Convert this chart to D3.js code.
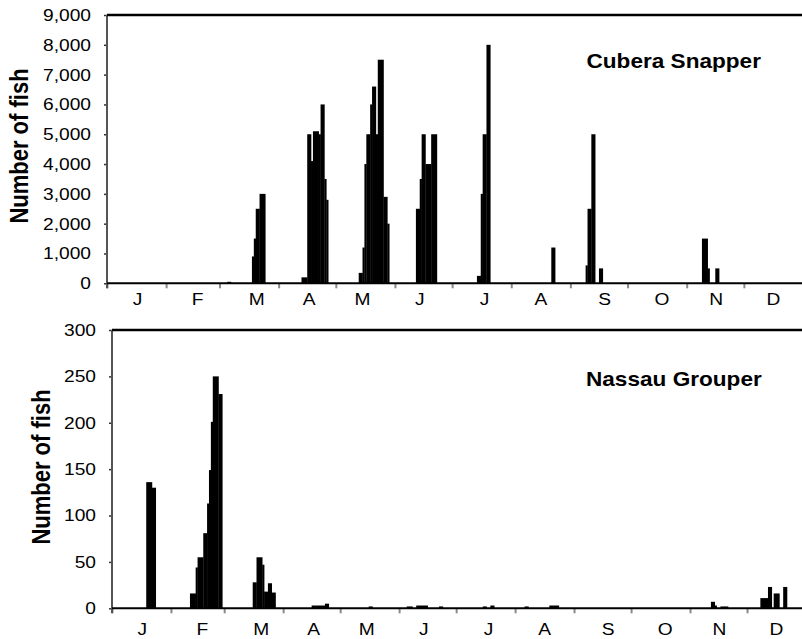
<!DOCTYPE html>
<html>
<head>
<meta charset="utf-8">
<script src="https://cdn.jsdelivr.net/npm/d3@7"></script>
<style>
  body { margin: 0; background: #fff; }
  text { font-family: "Liberation Sans", Arial, sans-serif; fill: #000; }
</style>
</head>
<body>
<div id="chart"></div>
<script>
const width = 802;
const height = 639;

const monthStarts = [0, 31, 59, 90, 120, 151, 181, 212, 243, 273, 304, 334, 365];
const monthLabels = ["J", "F", "M", "A", "M", "J", "J", "A", "S", "O", "N", "D"];
const monthLabelDay = [16, 47.5, 78.5, 106, 134, 164, 198, 227.5, 261, 291, 319.5, 349.5];

// runs of days: first day of year, number of days, fish counted
const snapperStart = [63, 76, 77, 78, 80, 102, 105, 107, 108, 111, 112, 114, 115, 132, 134, 135, 136, 138, 139, 141, 142, 145, 147, 162, 164, 165, 167, 170, 194, 196, 197, 199, 233, 251, 252, 254, 258, 312, 315, 319];
const snapperLen = [2, 1, 1, 2, 3, 3, 2, 1, 3, 1, 2, 1, 1, 2, 1, 1, 2, 1, 2, 1, 3, 2, 1, 2, 1, 2, 3, 3, 2, 1, 2, 2, 2, 1, 2, 2, 2, 3, 1, 2];
const snapperFish = [50, 900, 1500, 2500, 3000, 200, 5000, 4100, 5100, 5000, 6000, 3500, 2800, 350, 1200, 4000, 5000, 6000, 6600, 5000, 7500, 2900, 2000, 2500, 3500, 5000, 4000, 5000, 250, 3000, 5000, 8000, 1200, 600, 2500, 5000, 500, 1500, 500, 500];
const snapperTicks = [0, 1000, 2000, 3000, 4000, 5000, 6000, 7000, 8000, 9000];

const grouperStart = [18, 21, 41, 44, 45, 48, 50, 51, 52, 53, 56, 74, 76, 79, 80, 82, 84, 105, 107, 112, 135, 155, 160, 172, 195, 199, 217, 230, 315, 317, 320, 341, 345, 348, 353];
const grouperLen = [3, 2, 3, 1, 3, 2, 1, 1, 1, 3, 2, 2, 3, 1, 2, 2, 2, 2, 5, 2, 2, 3, 6, 2, 2, 2, 2, 5, 2, 1, 4, 4, 2, 3, 2];
const grouperFish = [136, 130, 16, 44, 55, 81, 113, 149, 201, 250, 231, 28, 55, 47, 18, 27, 17, 3, 3, 5, 2, 2, 3, 2, 2, 3, 2, 3, 7, 3, 2, 11, 23, 16, 23];
const grouperTicks = [0, 50, 100, 150, 200, 250, 300];

const stretch = 1.13;

const svg = d3
  .select("#chart")
  .append("svg")
  .attr("width", width)
  .attr("height", height);

function drawPanel({ left, right, top, bottom, yMax, ticks, starts, lens, fish, title, titleX, titleY, labelX, labelY, monthY }) {
  const x = d3.scaleLinear().domain([0, 365]).range([left, right]);
  const y = d3.scaleLinear().domain([0, yMax]).range([bottom, top]);
  const g = svg.append("g");

  const bars = starts.map((s, i) => ({ start: s, len: lens[i], value: fish[i] }));

  g.selectAll("rect.bar")
    .data(bars)
    .enter()
    .append("rect")
    .attr("class", "bar")
    .attr("x", d => x(d.start))
    .attr("width", d => x(d.start + d.len) - x(d.start) + 0.3)
    .attr("y", d => y(d.value))
    .attr("height", d => y(0) - y(d.value))
    .attr("fill", "#000");

  // month separators
  const xAxis = d3.axisBottom(x).tickValues(starts.length ? monthStarts : []).tickSize(5).tickFormat("");
  const xg = g.append("g").attr("transform", `translate(0,${bottom})`).call(xAxis);
  xg.select(".domain").remove();
  xg.selectAll(".tick line").attr("stroke", "#8a8a8a").attr("stroke-width", 2);

  g.selectAll("text.month")
    .data(monthLabels)
    .enter()
    .append("text")
    .attr("class", "month")
    .attr("text-anchor", "middle")
    .attr("font-size", 17)
    .attr("transform", (d, i) => `translate(${x(monthLabelDay[i])},${monthY}) scale(${stretch},1)`)
    .text(d => d);

  const yAxis = d3
    .axisLeft(y)
    .tickValues(ticks)
    .tickSize(3)
    .tickPadding(16 / stretch - 3)
    .tickFormat(d3.format(","));
  const yg = g.append("g").attr("transform", `translate(${left},0)`).call(yAxis);
  yg.select(".domain").remove();
  yg.selectAll(".tick line").attr("stroke", "#333").attr("stroke-width", 1.5);
  yg.selectAll(".tick text")
    .attr("font-size", 17)
    .attr("font-family", "Liberation Sans, Arial, sans-serif")
    .attr("fill", "#000")
    .attr("transform", `scale(${stretch},1)`);

  // frame: left axis, top line, baseline
  g.append("line")
    .attr("x1", left).attr("x2", left)
    .attr("y1", top).attr("y2", bottom + 5)
    .attr("stroke", "#555").attr("stroke-width", 2);
  g.append("line")
    .attr("x1", left).attr("x2", width)
    .attr("y1", top).attr("y2", top)
    .attr("stroke", "#000").attr("stroke-width", 2.5);
  g.append("line")
    .attr("x1", left).attr("x2", width)
    .attr("y1", bottom).attr("y2", bottom)
    .attr("stroke", "#000").attr("stroke-width", 2);

  g.append("text")
    .attr("font-size", 20)
    .attr("font-weight", "bold")
    .attr("transform", `translate(${titleX},${titleY}) scale(${stretch},1)`)
    .text(title);

  g.append("text")
    .attr("font-size", 22)
    .attr("font-weight", "bold")
    .attr("text-anchor", "middle")
    .attr("transform", `translate(${labelX},${labelY}) scale(${stretch},1) rotate(-90)`)
    .text("Number of fish");
}

drawPanel({
  left: 107, right: 803, top: 15, bottom: 283.3, yMax: 9000, ticks: snapperTicks,
  starts: snapperStart, lens: snapperLen, fish: snapperFish,
  title: "Cubera Snapper", titleX: 586.5, titleY: 68,
  labelX: 28, labelY: 146, monthY: 305
});

drawPanel({
  left: 112, right: 806, top: 330, bottom: 608.3, yMax: 300, ticks: grouperTicks,
  starts: grouperStart, lens: grouperLen, fish: grouperFish,
  title: "Nassau Grouper", titleX: 586, titleY: 386,
  labelX: 50, labelY: 467, monthY: 635
});
</script>
</body>
</html>
